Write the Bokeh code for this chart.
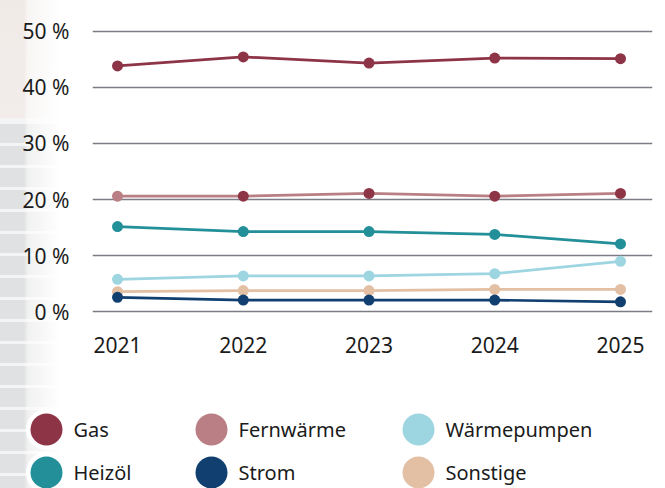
from bokeh.plotting import figure
from bokeh.models import Range1d, FixedTicker
from bokeh.layouts import column
from bokeh.embed import file_html
from bokeh.resources import INLINE
from bokeh.core.properties import value

# ---------------- data ----------------
years = [2021, 2022, 2023, 2024, 2025]
gas = [43.8, 45.4, 44.3, 45.2, 45.1]
fernwaerme = [20.6, 20.6, 21.1, 20.6, 21.1]
heizoel = [15.2, 14.3, 14.3, 13.8, 12.1]
waermepumpen = [5.8, 6.4, 6.4, 6.8, 9.0]
sonstige = [3.6, 3.8, 3.8, 4.0, 4.0]
strom = [2.6, 2.1, 2.1, 2.1, 1.8]

y_ticks = [0, 10, 20, 30, 40, 50]
y_tick_labels = ["0 %", "10 %", "20 %", "30 %", "40 %", "50 %"]
x_tick_labels = ["2021", "2022", "2023", "2024", "2025"]

legend_names = ["Gas", "Fernwärme", "Wärmepumpen", "Heizöl", "Strom", "Sonstige"]

# ---------------- styles ----------------
C_GAS = "#8e3447"
C_FERN = "#b97f84"
C_WP = "#9dd5e1"
C_OEL = "#228f99"
C_STROM = "#103f70"
C_SONST = "#e3bfa3"
legend_colors = [C_GAS, C_FERN, C_WP, C_OEL, C_STROM, C_SONST]
FONT = "Noto Sans"
FS_AX = "21px"
FS_LEG = "20px"
TXT = "#1b1b1b"

W = 665
H1 = 390
H2 = 98

p = figure(width=W, height=H1, output_backend="svg", toolbar_location=None,
           x_range=Range1d(2020.801, 2025.2545), y_range=Range1d(-1, 51),
           min_border_left=92, min_border_right=13, min_border_top=25,
           min_border_bottom=73)
p.frame_align = False
p.outline_line_color = None
p.background_fill_alpha = 0
p.border_fill_alpha = 0

# axes
p.yaxis.ticker = FixedTicker(ticks=y_ticks)
p.yaxis.major_label_overrides = {t: s for t, s in zip(y_ticks, y_tick_labels)}
p.xaxis.ticker = FixedTicker(ticks=years)
p.xaxis.major_label_overrides = {t: s for t, s in zip(years, x_tick_labels)}
for ax in (p.xaxis, p.yaxis):
    ax.axis_line_color = None
    ax.major_tick_line_color = None
    ax.minor_tick_line_color = None
    ax.major_label_text_font = FONT
    ax.major_label_text_font_size = FS_AX
    ax.major_label_text_color = TXT
p.yaxis.major_label_standoff = 17
p.xaxis.major_label_standoff = 13

p.xgrid.grid_line_color = None
p.ygrid.ticker = FixedTicker(ticks=y_ticks)
p.ygrid.grid_line_color = "#7c7c86"
p.ygrid.grid_line_width = 1.5

LW = 2.7
MS = 11

def series(vals, color, marker_colors=None):
    p.line(years, vals, line_color=color, line_width=LW)
    p.scatter(years, vals, size=MS, fill_color=marker_colors or color,
              line_color=None)

series(waermepumpen, C_WP)
series(sonstige, C_SONST)
series(strom, C_STROM)
series(heizoel, C_OEL)
series(fernwaerme, C_FERN, [C_FERN, C_GAS, C_GAS, C_GAS, C_GAS])
series(gas, C_GAS)

# ---------------- legend figure ----------------
q = figure(width=W, height=H2, output_backend="svg", toolbar_location=None,
           x_range=Range1d(0, W), y_range=Range1d(H2, 0), min_border=0)
q.frame_align = False
q.axis.visible = False
q.grid.visible = False
q.outline_line_color = None
q.background_fill_alpha = 0
q.border_fill_alpha = 0

col_x = [46, 211, 418]
row_y = [39, 82]
lx = [col_x[i % 3] for i in range(6)]
ly = [row_y[i // 3] for i in range(6)]
q.scatter(lx, ly, size=41, fill_color="white", line_color=None)
q.scatter(lx, ly, size=32, fill_color=legend_colors, line_color=None)
q.text([x + 27 for x in lx], ly, text=legend_names, text_font=value(FONT),
       text_font_size=FS_LEG, text_color=TXT, text_baseline="middle",
       text_align="left")

layout = column(p, q, spacing=0)
# faint photo strip on the left edge of the original artwork
layout.styles = {
    "background":
        "linear-gradient(to right, rgba(255,255,255,0) 0px, rgba(255,255,255,0) 24px, "
        "rgba(255,255,255,0.55) 28px, rgba(255,255,255,0.8) 46px, #ffffff 60px), "
        "linear-gradient(to bottom, #f0eae7 0px, #f2edeb 118px, #f4f4f4 118px, "
        "#f4f4f4 121px, rgba(255,255,255,0) 121px), "
        "repeating-linear-gradient(to bottom, #e0e1e2 0px, #e0e1e2 11px, #f4f4f4 11px, "
        "#f4f4f4 14px, #e0e1e2 14px, #e0e1e2 22px)"
}
open("out.html", "w").write(file_html(layout, INLINE))
